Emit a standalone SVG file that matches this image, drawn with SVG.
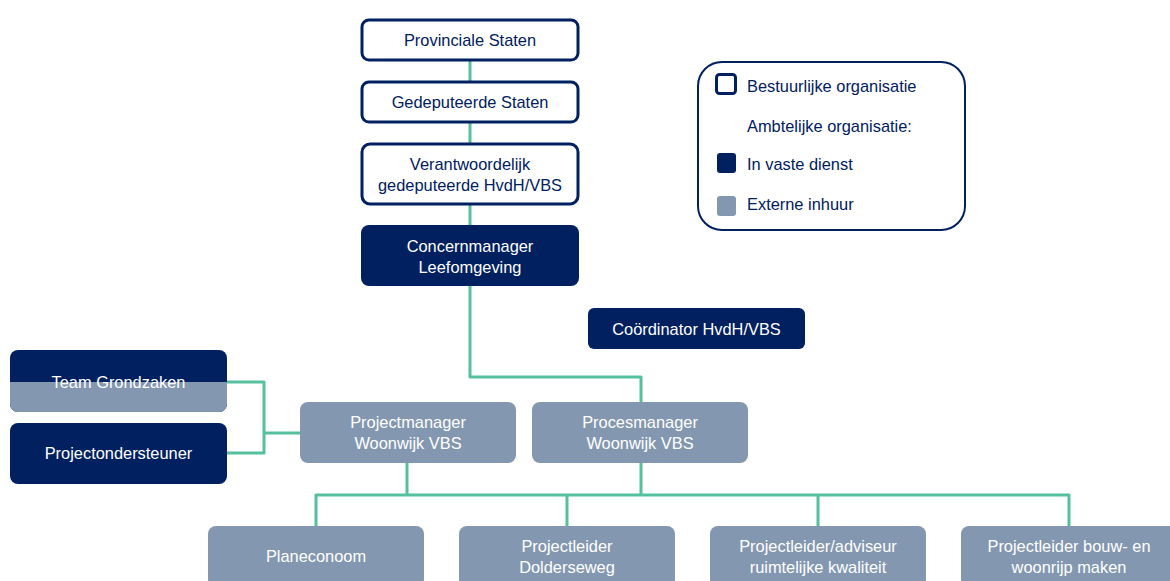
<svg xmlns="http://www.w3.org/2000/svg" width="1170" height="581" viewBox="0 0 1170 581">
<style>
.bg{fill:#ffffff}
.gov{fill:#ffffff;stroke:#002060;stroke-width:3}
.dark{fill:#002060}
.light{fill:#8497b0}
.t{font-family:"Liberation Sans",Arial,sans-serif;font-size:16.4px;text-anchor:middle}
.tn{fill:#002060}
.tw{fill:#ffffff}
.lg{font-family:"Liberation Sans",Arial,sans-serif;font-size:16.4px;fill:#002060}
.c{fill:none;stroke:#55c09c;stroke-width:3;stroke-linejoin:round}
</style>
<rect class="bg" x="0" y="0" width="1170" height="581"/>
<g id="connectors">
<path class="c" d="M470,61V81M470,123V143M470,205V225"/>
<path class="c" d="M470,286V377H641V402"/>
<path class="c" d="M227,382H264V453H227M264,433H300"/>
<path class="c" d="M407,463V495M641,463V495"/>
<path class="c" d="M316,526V495H1069V526M567,495V526M818,495V526"/>
</g>
<g id="legend">
<rect x="698" y="62" width="267" height="168" rx="24" fill="#ffffff" stroke="#002060" stroke-width="2"/>
<rect x="716.5" y="74.5" width="19" height="19" rx="3" fill="#ffffff" stroke="#002060" stroke-width="3"/>
<text class="lg" x="747" y="92">Bestuurlijke organisatie</text>
<text class="lg" x="747" y="132">Ambtelijke organisatie:</text>
<rect x="717" y="153" width="19" height="20" rx="3" class="dark"/>
<text class="lg" x="747" y="170">In vaste dienst</text>
<rect x="717" y="196" width="19" height="20" rx="3" class="light"/>
<text class="lg" x="747" y="210">Externe inhuur</text>
</g>
<g id="provinciale-staten">
<rect class="gov" x="362" y="20" width="216" height="40" rx="7"/>
<text class="t tn" x="470" y="46">Provinciale Staten</text>
</g>
<g id="gedeputeerde-staten">
<rect class="gov" x="362" y="82" width="216" height="40" rx="7"/>
<text class="t tn" x="470" y="108">Gedeputeerde Staten</text>
</g>
<g id="verantwoordelijk-gedeputeerde">
<rect class="gov" x="362" y="144" width="216" height="60" rx="8"/>
<text class="t tn" x="470" y="170">Verantwoordelijk</text>
<text class="t tn" x="470" y="191">gedeputeerde HvdH/VBS</text>
</g>
<g id="concernmanager">
<rect class="dark" x="361" y="225" width="218" height="61" rx="8"/>
<text class="t tw" x="470" y="252">Concernmanager</text>
<text class="t tw" x="470" y="273">Leefomgeving</text>
</g>
<g id="coordinator">
<rect class="dark" x="588" y="308" width="217" height="41" rx="6"/>
<text class="t tw" x="696.5" y="334.5">Coördinator HvdH/VBS</text>
</g>
<g id="team-grondzaken">
<rect class="dark" x="10" y="350" width="217" height="62" rx="8"/>
<path class="light" d="M10,382H227V404A8,8 0 0 1 219,412H18A8,8 0 0 1 10,404Z"/>
<text class="t tw" x="118.5" y="388">Team Grondzaken</text>
</g>
<g id="projectondersteuner">
<rect class="dark" x="10" y="423" width="217" height="61" rx="8"/>
<text class="t tw" x="118.5" y="459">Projectondersteuner</text>
</g>
<g id="projectmanager">
<rect class="light" x="300" y="402" width="216" height="61" rx="8"/>
<text class="t tw" x="408" y="428">Projectmanager</text>
<text class="t tw" x="408" y="449">Woonwijk VBS</text>
</g>
<g id="procesmanager">
<rect class="light" x="532" y="402" width="216" height="61" rx="8"/>
<text class="t tw" x="640" y="428">Procesmanager</text>
<text class="t tw" x="640" y="449">Woonwijk VBS</text>
</g>
<g id="planeconoom">
<rect class="light" x="208" y="526" width="216" height="61" rx="8"/>
<text class="t tw" x="316" y="562">Planeconoom</text>
</g>
<g id="projectleider-dolderseweg">
<rect class="light" x="459" y="526" width="216" height="61" rx="8"/>
<text class="t tw" x="567" y="552">Projectleider</text>
<text class="t tw" x="567" y="573">Dolderseweg</text>
</g>
<g id="projectleider-adviseur">
<rect class="light" x="710" y="526" width="216" height="61" rx="8"/>
<text class="t tw" x="818" y="552">Projectleider/adviseur</text>
<text class="t tw" x="818" y="573">ruimtelijke kwaliteit</text>
</g>
<g id="projectleider-bouw">
<rect class="light" x="961" y="526" width="216" height="61" rx="8"/>
<text class="t tw" x="1069" y="552">Projectleider bouw- en</text>
<text class="t tw" x="1069" y="573">woonrijp maken</text>
</g>
</svg>
